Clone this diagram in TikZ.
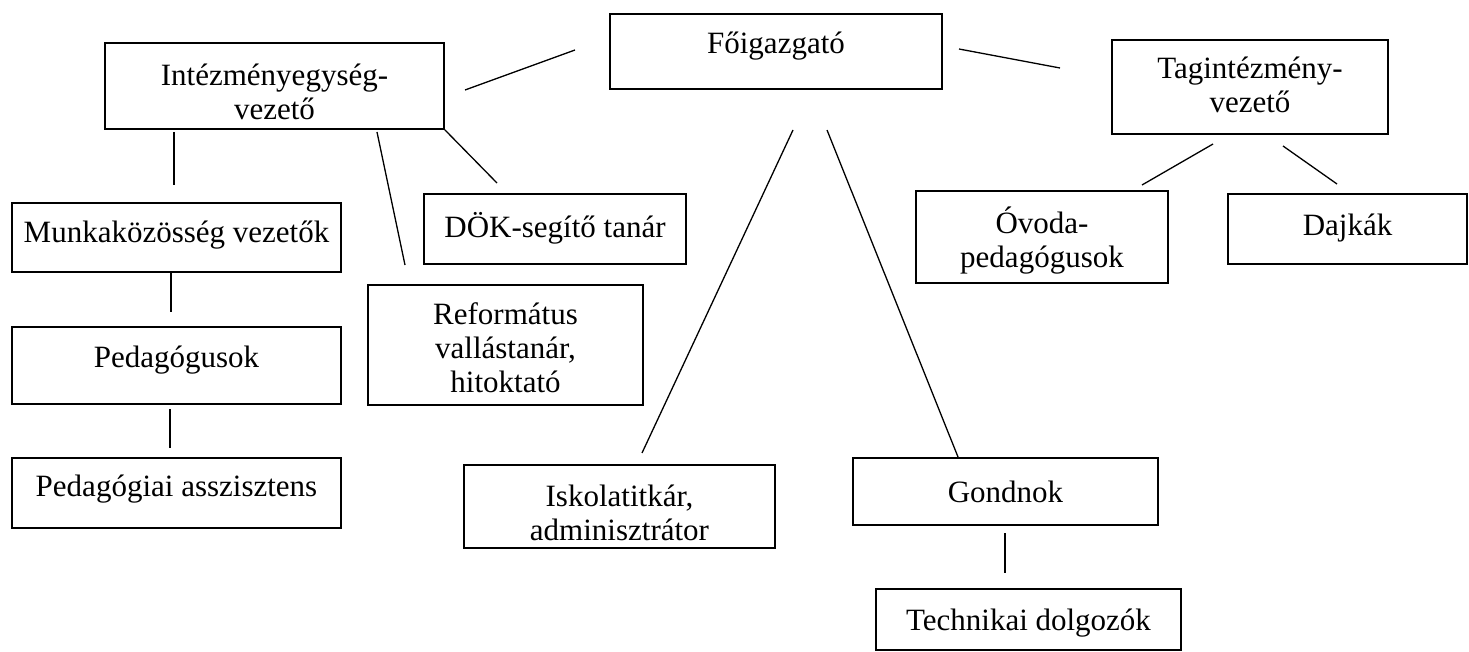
\documentclass[tikz,border=0pt]{standalone}
\usepackage{fontspec}
\setmainfont{Liberation Serif}
\usetikzlibrary{fit}
\begin{document}
\begin{tikzpicture}[x=1pt,y=-1pt,
  box/.style={draw, line width=1.5pt, inner sep=0pt},
  txt/.style={font=\fontsize{31}{34}\selectfont, align=center, inner sep=0pt},
  conn/.style={line width=1.3pt}]
\useasboundingbox (0,0) rectangle (1469,652);
% boxes
\node[box, fit={(610,14) (942,89)}] (fo) {};
\node[box, fit={(105,43) (444,129)}] (ie) {};
\node[box, fit={(1112,40) (1388,134)}] (ti) {};
\node[box, fit={(12,203) (341,272)}] (mk) {};
\node[box, fit={(12,327) (341,404)}] (pe) {};
\node[box, fit={(12,458) (341,528)}] (pa) {};
\node[box, fit={(424,194) (686,264)}] (dok) {};
\node[box, fit={(368,285) (643,405)}] (ref) {};
\node[box, fit={(464,465) (775,548)}] (isk) {};
\node[box, fit={(853,458) (1158,525)}] (go) {};
\node[box, fit={(876,589) (1181,650)}] (te) {};
\node[box, fit={(916,191) (1168,283)}] (ov) {};
\node[box, fit={(1228,194) (1467,264)}] (da) {};
% texts
\node[txt] (fo-t) at (776,46) {Főigazgató};
\node[txt] (ie-t) at (274.5,92) {Intézményegység-\\vezető};
\node[txt] (ti-t) at (1250,85) {Tagintézmény-\\vezető};
\node[txt] (mk-t) at (176.5,235) {Munkaközösség vezetők};
\node[txt] (pe-t) at (176.5,360) {Pedagógusok};
\node[txt] (pa-t) at (176.5,489) {Pedagógiai asszisztens};
\node[txt] (dok-t) at (555,228) {DÖK-segítő tanár};
\node[txt] (ref-t) at (505.5,348) {Református\\vallástanár,\\hitoktató};
\node[txt] (isk-t) at (619.5,513) {Iskolatitkár,\\adminisztrátor};
\node[txt] (go-t) at (1005.5,492) {Gondnok};
\node[txt] (te-t) at (1028.5,623) {Technikai dolgozók};
\node[txt] (ov-t) at (1042,241) {Óvoda-\\pedagógusok};
\node[txt] (da-t) at (1347.5,228) {Dajkák};
% connector ends
\coordinate (ie-fo-a) at (465,90);   \coordinate (ie-fo-b) at (575,50);
\coordinate (fo-ti-a) at (959,49);   \coordinate (fo-ti-b) at (1060,68);
\coordinate (fo-isk-a) at (793,130); \coordinate (fo-isk-b) at (642,453);
\coordinate (fo-go-a) at (827,130);  \coordinate (fo-go-b) at (958,457);
\coordinate (ie-mk-a) at (174,132);  \coordinate (ie-mk-b) at (174,185);
\coordinate (ie-ref-a) at (377,132); \coordinate (ie-ref-b) at (405,265);
\coordinate (ie-dok-b) at (497,183);
\coordinate (mk-pe-a) at (171,273);  \coordinate (mk-pe-b) at (171,312);
\coordinate (pe-pa-a) at (170,409);  \coordinate (pe-pa-b) at (170,448);
\coordinate (ti-ov-a) at (1213,144); \coordinate (ti-ov-b) at (1142,185);
\coordinate (ti-da-a) at (1283,146); \coordinate (ti-da-b) at (1337,184);
\coordinate (go-te-a) at (1005,533); \coordinate (go-te-b) at (1005,573);
% connectors
\draw[conn] (ie-fo-a) -- (ie-fo-b);
\draw[conn] (fo-ti-a) -- (fo-ti-b);
\draw[conn] (fo-isk-a) -- (fo-isk-b);
\draw[conn] (fo-go-a) -- (fo-go-b);
\draw[conn] (ie-mk-a) -- (ie-mk-b);
\draw[conn] (ie-ref-a) -- (ie-ref-b);
\draw[conn] (ie.south east) -- (ie-dok-b);
\draw[conn] (mk-pe-a) -- (mk-pe-b);
\draw[conn] (pe-pa-a) -- (pe-pa-b);
\draw[conn] (ti-ov-a) -- (ti-ov-b);
\draw[conn] (ti-da-a) -- (ti-da-b);
\draw[conn] (go-te-a) -- (go-te-b);
\end{tikzpicture}
\end{document}
